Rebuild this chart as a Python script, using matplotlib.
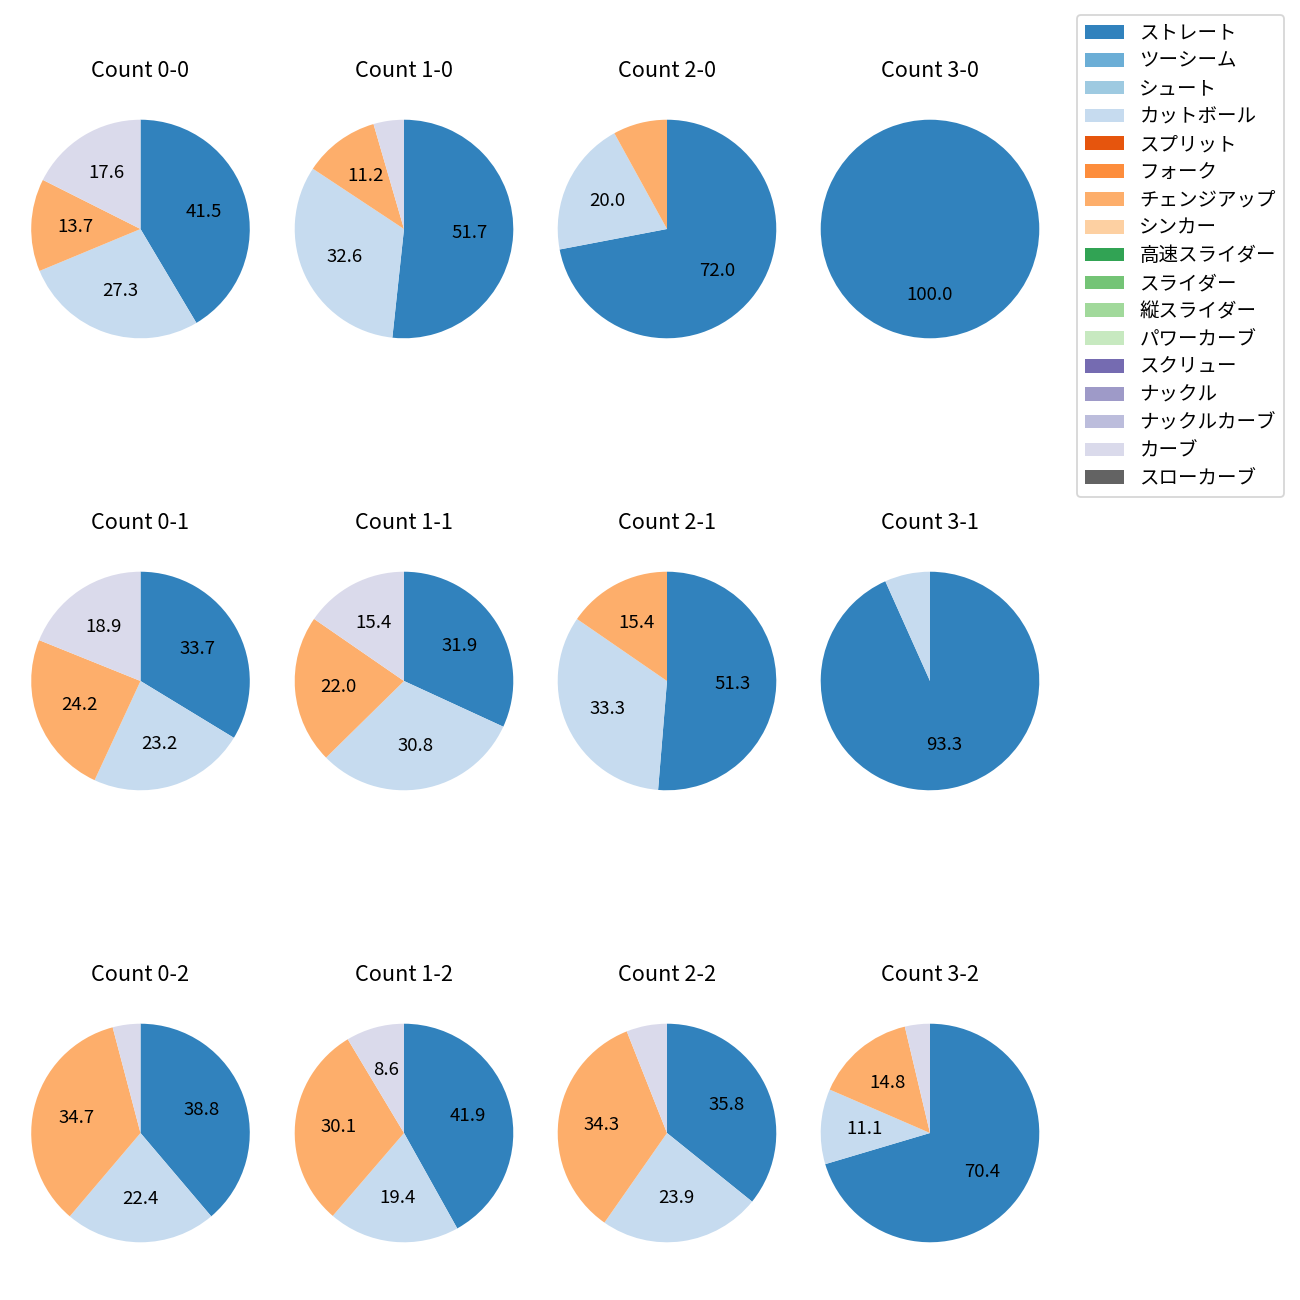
import numpy as np
import matplotlib
matplotlib.use('Agg')
import matplotlib.pyplot as plt
from matplotlib.patches import Patch

plt.rcParams['font.family'] = ['Noto Sans CJK JP', 'DejaVu Sans']

pitch_types = ['ストレート', 'ツーシーム', 'シュート', 'カットボール', 'スプリット',
               'フォーク', 'チェンジアップ', 'シンカー', '高速スライダー', 'スライダー',
               '縦スライダー', 'パワーカーブ', 'スクリュー', 'ナックル', 'ナックルカーブ',
               'カーブ', 'スローカーブ']

# counts are laid out row by row: strikes down, balls across
counts = ['0-0', '1-0', '2-0', '3-0',
          '0-1', '1-1', '2-1', '3-1',
          '0-2', '1-2', '2-2', '3-2']

# share (%) of each pitch type per count
straight = [41.5, 51.7, 72.0, 100.0, 33.7, 31.9, 51.3, 93.3, 38.8, 41.9, 35.8, 70.4]
cutball = [27.3, 32.6, 20.0, 0.0, 23.2, 30.8, 33.3, 6.7, 22.4, 19.4, 23.9, 11.1]
changeup = [13.7, 11.2, 8.0, 0.0, 24.2, 22.0, 15.4, 0.0, 34.7, 30.1, 34.3, 14.8]
curve = [17.6, 4.5, 0.0, 0.0, 18.9, 15.4, 0.0, 0.0, 4.1, 8.6, 6.0, 3.7]

colors = list(plt.get_cmap('tab20c').colors[:17])
used = {'ストレート': straight, 'カットボール': cutball,
        'チェンジアップ': changeup, 'カーブ': curve}


def autopct(p):
    return '{:.1f}'.format(p) if p > 8.3 else ''


W = H = 1300
fig = plt.figure(figsize=(10, 10), dpi=130)

col_cx = [140.5, 404, 667, 930]
row_cy = [229, 681, 1133]
half = 136.6

for i, cnt in enumerate(counts):
    r, c = divmod(i, 4)
    cx, cy = col_cx[c], row_cy[r]
    ax = fig.add_axes([(cx - half) / W, 1 - (cy + half) / H, 2 * half / W, 2 * half / H])
    vals, cols = [], []
    for name, col in zip(pitch_types, colors):
        if name in used and used[name][i] > 0:
            vals.append(used[name][i])
            cols.append(col)
    ax.pie(vals, colors=cols, startangle=90, counterclock=False,
           autopct=autopct, textprops={'fontsize': 10.3})
    ax.set_title('Count ' + cnt, fontsize=12, pad=8.8)

handles = [Patch(facecolor=col, label=name) for name, col in zip(pitch_types, colors)]
fig.legend(handles=handles, loc='upper left', bbox_to_anchor=(1077 / W, 1 - 15 / H),
           borderaxespad=0, fontsize=10.8, labelspacing=0.35)

fig.savefig('out.png', dpi=130)
